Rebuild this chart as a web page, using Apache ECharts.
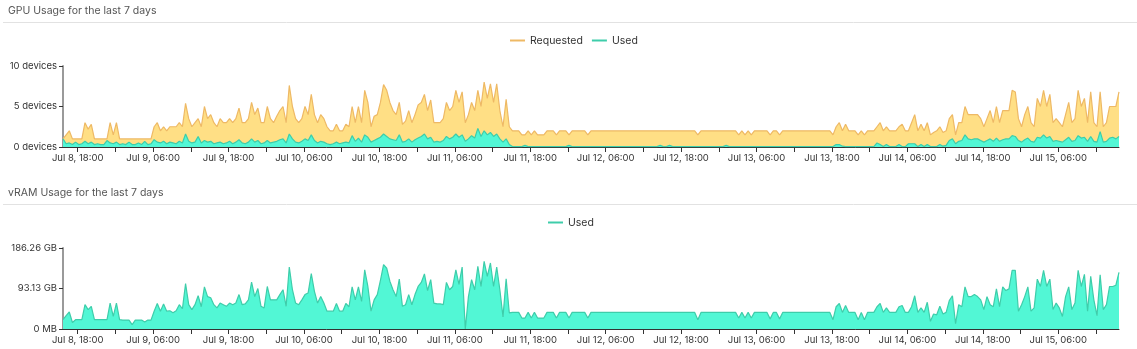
<!DOCTYPE html>
<html><head><meta charset="utf-8">
<script src="https://cdn.jsdelivr.net/npm/echarts@6/dist/echarts.min.js"></script>
<style>html,body{margin:0;padding:0;background:#fff}#c{width:1137px;height:349px}</style>
</head><body><div id="c"></div>
<script>
// ---- data (30-minute samples starting Jul 8, 15:40) ----
const startLabel = 'Jul 8, 15:40';
const endLabel = 'Jul 15, 15:40';
const stepMinutes = 30;

const requested = [
1,1.5,2,1,1,1,1,3,2.2,2.8,
1,1,1,1,1,3,1.5,3,1,1,
1,1,1,1,1,1,1,1,1,2.5,
3,2,2.5,2,2.5,2.5,2.5,3,2.5,5.4,
3.5,2.5,3,3.5,2.5,5,3.5,4,3,2.5,
3.5,3,3,3.5,3,3.5,4.8,3,3,3.5,
5.5,4,4.8,3,3,5,3.5,3,3.8,4.5,
5,3,7.6,5,3.5,3,3.5,5,4,6.5,
4,3,4,3.5,2.5,2,2,2.8,2,2,
2.8,2.5,5,3,5,3,7,5.5,2.5,3.8,
4,5.5,7.7,7,5.5,4.5,4,5.5,2.8,3.2,
4.5,3,4,5.2,5.5,6.5,4.5,5.8,3,3,
3,3.5,5.5,4.5,5,7,5.5,6.8,3,4,
5.5,4.5,7,5,8,6,7.8,5.5,7.8,4.5,
2.5,5.9,2.5,2,2,2,1.5,1.5,2,1.5,
2,1.5,1.5,1.5,2,2,2,1.5,2,2,
2,1.5,2,2,2,2,2,1.5,2,2,
2,2,2,2,2,2,2,2,2,2,
2,2,2,2,2,2,2,2,2,2,
2,2,2,2,2,2,2,2,2,2,
2,2,1.5,2,2,2,2,2,2,2,
2,2,2,2,2,1.5,2,1.5,2,1.5,
2,2,2,2,2,1.5,2,2,1.5,2,
2,2,2,2,2,2,2,2,2,2,
2,2,2,2,2,1.5,2.5,3,2,2.8,
2,2,2,1.5,2,1.5,2,2,2,2.5,
3,2,2.5,2,2,2,2.5,2.8,2,2,
3,4,2,2.8,2,3,1.5,1.8,2,2.5,
1.8,2,3.5,4,1.5,3,3,5,4,4,
4,4,3.5,2.5,3.5,4.5,3,5,3,4.5,
4.5,4.5,7,6.8,3.5,2.5,4,5,3,2.5,
6,5,7,5,6.5,3,3.5,3,2.5,4,
5.5,3,3.5,7,5,6,3,6.8,3,2.5,
6.8,2.5,3,5,5,5,6.8
];

const gpuUsed = [
1,0.4,0.5,0.3,0.6,0.3,0.4,0.7,0.4,0.6,
0.3,0.4,0.3,0.3,0.8,0.5,0.4,0.6,0.3,0.4,
0.3,0.6,0.3,0.3,0.5,0.3,0.7,0.3,0.4,0.9,
0.6,0.5,0.7,0.4,0.6,0.5,0.4,0.7,0.5,1.6,
0.7,0.5,0.6,1.3,0.5,0.8,0.6,0.7,0.4,0.5,
0.6,0.4,0.5,0.7,0.4,0.6,0.9,0.5,0.4,0.6,
1,0.6,0.8,0.4,0.5,0.8,0.5,0.6,0.7,0.9,
1,0.5,1.6,1,0.6,0.5,0.7,1,0.8,1.5,
0.8,0.5,0.7,0.6,0.4,0.3,0.4,0.6,0.4,0.5,
0.6,0.5,1.4,0.7,1.1,0.6,1.5,1.2,0.6,0.8,
1,1.2,1.6,1.3,1,0.9,0.8,1.5,0.6,0.7,
1,0.6,0.9,1.1,1.3,1.6,1,1.2,0.6,0.7,
0.6,0.8,1.3,1,1.2,1.6,1.2,1.5,0.7,1,
1.4,1.1,2.3,1.3,2,1.5,1.8,1.3,1.6,1,
0.6,1,0.3,0.05,0.05,0.05,0.05,0.2,0.05,0.05,
0.05,0.05,0.05,0.05,0.05,0.05,0.05,0.05,0.05,0.05,
0.05,0.2,0.05,0.05,0.05,0.05,0.05,0.05,0.05,0.05,
0.05,0.05,0.05,0.05,0.05,0.05,0.05,0.05,0.05,0.05,
0.05,0.05,0.05,0.05,0.05,0.05,0.05,0.05,0.05,0.05,
0.2,0.05,0.05,0.2,0.05,0.05,0.05,0.05,0.05,0.05,
0.05,0.05,0.05,0.05,0.05,0.05,0.05,0.05,0.05,0.05,
0.05,0.2,0.05,0.05,0.05,0.05,0.05,0.05,0.05,0.05,
0.05,0.05,0.05,0.05,0.05,0.05,0.05,0.05,0.05,0.05,
0.05,0.05,0.05,0.05,0.05,0.05,0.05,0.05,0.05,0.05,
0.05,0.05,0.05,0.05,0.05,0.05,0.3,0.3,0.1,0.05,
0.05,0.05,0.05,0.05,0.05,0.05,0.05,0.05,0.05,0.5,
0.3,0.05,0.3,0.05,0.05,0.05,0.3,0.05,0.05,0.4,
0.4,0.4,0.05,0.3,0.05,0.3,0.05,0.05,0.05,0.3,
0.1,0.2,0.8,1,0.4,0.7,0.8,1.5,1,0.9,
1,1,0.8,0.6,0.8,1,0.7,1.1,0.7,0.9,
1,1,1.4,1.3,0.8,0.6,0.9,1.1,0.7,0.6,
1.2,1.1,1.5,1.1,1.3,0.7,0.8,0.7,0.6,0.9,
1.2,0.7,0.8,1.4,1.1,1.2,0.7,1.3,0.7,0.6,
1.9,0.6,0.7,1.1,1.2,1,1.3
];

// vRAM used, in GB (1e9 bytes)
const vramUsedGB = [
23,33,42,16,23,23,23,60,48,56,
23,23,23,23,23,64,31,64,23,22,
22,22,11,22,22,22,17,22,22,44,
63,44,62,44,45,40,45,60,50,112,
60,48,60,82,55,104,80,77,60,52,
64,60,56,64,60,64,85,60,62,72,
116,80,100,56,52,105,72,72,72,85,
97,56,153,97,64,60,72,85,89,137,
93,64,80,64,44,44,44,63,44,44,
63,55,104,72,104,68,146,105,44,72,
85,120,159,150,118,97,80,123,56,60,
85,60,85,105,115,136,95,122,64,62,
62,60,115,97,105,146,110,153,0,80,
122,97,155,105,167,130,163,105,153,97,
30,124,40,41,41,41,27,27,41,27,
41,27,27,27,41,41,41,27,41,41,
41,27,41,41,41,41,41,27,41,41,
41,41,41,41,41,41,41,41,41,41,
41,41,41,41,41,41,41,41,41,41,
41,41,41,41,41,41,41,41,41,41,
41,41,23,41,41,41,41,41,41,41,
41,41,41,41,41,27,41,27,41,27,
41,41,41,41,41,25,41,41,25,41,
41,41,41,41,41,41,41,41,41,41,
41,41,41,41,41,23,55,63,41,58,
41,41,41,23,41,23,41,41,41,55,
63,41,52,41,41,41,55,58,41,41,
55,82,41,52,41,66,19,37,35,56,
37,41,70,82,13,60,55,104,80,80,
85,80,72,48,80,60,55,99,55,104,
95,99,145,145,44,60,80,104,44,52,
123,105,145,105,123,48,64,52,31,80,
104,48,64,145,105,135,44,130,72,33,
134,48,60,105,105,108,140
];

const xLabelTexts = ['Jul 8, 18:00','Jul 9, 06:00','Jul 9, 18:00','Jul 10, 06:00','Jul 10, 18:00',
  'Jul 11, 06:00','Jul 11, 18:00','Jul 12, 06:00','Jul 12, 18:00','Jul 13, 06:00','Jul 13, 18:00',
  'Jul 14, 06:00','Jul 14, 18:00','Jul 15, 06:00'];
const xTickTexts = ['Jul 8, 18:00','Jul 9, 00:00','Jul 9, 06:00','Jul 9, 12:00','Jul 9, 18:00','Jul 10, 00:00',
  'Jul 10, 06:00','Jul 10, 12:00','Jul 10, 18:00','Jul 11, 00:00','Jul 11, 06:00','Jul 11, 12:00',
  'Jul 11, 18:00','Jul 12, 00:00','Jul 12, 06:00','Jul 12, 12:00','Jul 12, 18:00','Jul 13, 00:00',
  'Jul 13, 06:00','Jul 13, 12:00','Jul 13, 18:00','Jul 14, 00:00','Jul 14, 06:00','Jul 14, 12:00',
  'Jul 14, 18:00','Jul 15, 00:00','Jul 15, 06:00','Jul 15, 12:00'];

const gpuTitle = 'GPU Usage for the last 7 days';
const vramTitle = 'vRAM Usage for the last 7 days';

// ---- helpers ----
function parseT(s){
  const m = s.match(/Jul (\d+), (\d+):(\d+)/);
  return Date.UTC(2024, 6, +m[1], +m[2], +m[3]);
}
const t0 = parseT(startLabel), tEnd = parseT(endLabel);
const stepMs = stepMinutes * 60000;
const toPairs = arr => arr.map((v,i)=>[t0 + i*stepMs, v]);
const labelVals = xLabelTexts.map(parseT);
const tickVals = xTickTexts.map(parseT);
const labelMap = {}; xLabelTexts.forEach(s=>{labelMap[parseT(s)] = s;});

const FONT = 'Inter, "Noto Sans", sans-serif';
const cReqLine = '#EEB965', cReqFill = '#FFDF85';
const cUsedLine = '#3ECDAA', cUsedFill = '#52F7D5';

function xAxis(gi){
  return {
    type:'value', gridIndex:gi, min:t0, max:tEnd,
    axisLine:{show:true, lineStyle:{color:'#333', width:1}},
    axisTick:{show:true, customValues:tickVals, length:5, lineStyle:{color:'#333'}},
    axisLabel:{customValues:labelVals, formatter:v=>labelMap[v]||'', fontSize:9.5, color:'#333', margin:6, fontFamily:FONT},
    splitLine:{show:false}
  };
}
function yAxis(gi, max, interval, fmt){
  return {
    type:'value', gridIndex:gi, min:0, max:max, interval:interval,
    axisLine:{show:true, lineStyle:{color:'#9a9a9a', width:2}},
    axisTick:{show:true, length:4, lineStyle:{color:'#333'}},
    axisLabel:{formatter:fmt, fontSize:9.5, color:'#333', margin:6, fontFamily:FONT},
    splitLine:{show:false}
  };
}

const chart = echarts.init(document.getElementById('c'), null, {renderer:'canvas'});
chart.setOption({
  animation:false,
  textStyle:{fontFamily:FONT},
  title:[
    {text:gpuTitle, left:3, top:0, textStyle:{fontSize:10.5, fontWeight:'normal', color:'#555', fontFamily:FONT}},
    {text:vramTitle, left:3, top:182, textStyle:{fontSize:10.5, fontWeight:'normal', color:'#555', fontFamily:FONT}}
  ],
  graphic:[
    {type:'line', shape:{x1:3, y1:22.5, x2:1137, y2:22.5}, style:{stroke:'#e2e2e2', lineWidth:1}},
    {type:'line', shape:{x1:3, y1:204.5, x2:1137, y2:204.5}, style:{stroke:'#e2e2e2', lineWidth:1}}
  ],
  legend:[
    {data:['Requested','Used'], left:505, top:30, icon:'rect', itemWidth:15, itemHeight:2, itemGap:9,
     textStyle:{fontSize:10.5, color:'#333', fontFamily:FONT}},
    {data:['Used'], left:543, top:212, icon:'rect', itemWidth:15, itemHeight:2,
     textStyle:{fontSize:10.5, color:'#333', fontFamily:FONT}}
  ],
  grid:[
    {left:63, right:18, top:66, height:81},
    {left:63, right:18, top:248, height:81}
  ],
  xAxis:[xAxis(0), xAxis(1)],
  yAxis:[
    yAxis(0, 10, 5, v=>v+' devices'),
    yAxis(1, 200, 100, v=> v===0 ? '0 MB' : (v*1e9/1073741824).toFixed(2)+' GB')
  ],
  series:[
    {name:'Requested', type:'line', xAxisIndex:0, yAxisIndex:0, data:toPairs(requested), symbol:'none',
     itemStyle:{color:cReqLine}, lineStyle:{color:cReqLine, width:1.2}, areaStyle:{color:cReqFill, opacity:1}},
    {name:'Used', type:'line', xAxisIndex:0, yAxisIndex:0, data:toPairs(gpuUsed), symbol:'none',
     itemStyle:{color:cUsedLine}, lineStyle:{color:cUsedLine, width:1.2}, areaStyle:{color:cUsedFill, opacity:1}},
    {name:'Used', type:'line', xAxisIndex:1, yAxisIndex:1, data:toPairs(vramUsedGB), symbol:'none',
     itemStyle:{color:cUsedLine}, lineStyle:{color:cUsedLine, width:1.2}, areaStyle:{color:cUsedFill, opacity:1}}
  ]
});
</script>
</body></html>
